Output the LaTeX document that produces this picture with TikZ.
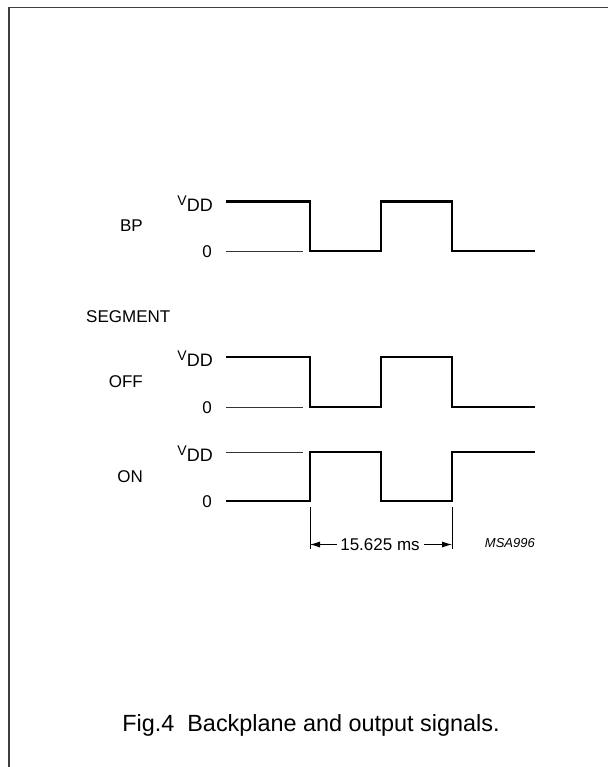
\documentclass[tikz,border=0pt]{standalone}
\usepackage{fontspec}
\setmainfont{Liberation Sans}
\usetikzlibrary{arrows.meta}
\begin{document}
\begin{tikzpicture}[x=1bp,y=-1bp,
  wave/.style={line width=2.6bp, line join=miter, line cap=butt},
  thin/.style={line width=0.9bp, draw=black!80},
  lbl/.style={inner sep=0pt, font=\fontsize{17bp}{17bp}\selectfont},
  dim/.style={line width=0.8bp},
  frame/.style={line width=1.6bp, draw=black!75}]
\useasboundingbox (0,0) rectangle (608,767);
\draw[frame] (9,767) -- (9,7.5) -- (608,7.5);

% BP
\node[lbl, anchor=east] (bp) at (143,226) {BP};
\node[lbl, anchor=base east] (bpv) at (213,211) {\raisebox{6bp}{\fontsize{14bp}{14bp}\selectfont V}{\fontsize{18bp}{18bp}\selectfont DD}};
\node[lbl, anchor=east] (bp0) at (212,251.5) {0};
\draw[thin] (226,251) -- (303,251);
\draw[wave] (226,201.5) -- (310,201.5) -- (310,251) -- (381,251) -- (381,201.5) -- (452,201.5) -- (452,251) -- (535,251);

% SEGMENT
\node[lbl, anchor=west] (seg) at (86,317) {SEGMENT};

% OFF
\node[lbl, anchor=east] (off) at (143,382) {OFF};
\node[lbl, anchor=base east] (offv) at (213,366) {\raisebox{6bp}{\fontsize{14bp}{14bp}\selectfont V}{\fontsize{18bp}{18bp}\selectfont DD}};
\node[lbl, anchor=east] (off0) at (212,407.5) {0};
\draw[thin] (226,407) -- (303,407);
\draw[wave] (226,357) -- (310,357) -- (310,407) -- (381,407) -- (381,357) -- (452,357) -- (452,407) -- (535,407);

% ON
\node[lbl, anchor=east] (on) at (143,477) {ON};
\node[lbl, anchor=base east] (onv) at (213,461) {\raisebox{6bp}{\fontsize{14bp}{14bp}\selectfont V}{\fontsize{18bp}{18bp}\selectfont DD}};
\node[lbl, anchor=east] (on0) at (212,501.5) {0};
\draw[thin] (226,452) -- (303,452);
\draw[wave] (226,501) -- (310,501) -- (310,452) -- (381,452) -- (381,501) -- (452,501) -- (452,452) -- (535,452);

% dimension
\coordinate (e1t) at (310,507);
\coordinate (e1b) at (310,549);
\coordinate (e2t) at (452,507);
\coordinate (e2b) at (452,549);
\draw[dim] (e1t) -- (e1b);
\draw[dim] (e2t) -- (e2b);
\node[lbl, inner sep=0pt] (ms) at (380,545) {15.625 ms};
\coordinate (a1) at (310,544.5);
\coordinate (a2) at (452,544.5);
\draw[dim, -{Latex[length=10bp,width=6bp]}] (ms.west |- a1) ++(-3,0) -- (a1);
\draw[dim, -{Latex[length=10bp,width=6bp]}] (ms.east |- a2) ++(4,0) -- (a2);
\node[inner sep=0pt, anchor=east, font=\fontsize{13bp}{13bp}\selectfont\itshape] (msa) at (535,543) {MSA996};

% caption
\node[inner sep=0pt, font=\fontsize{23.4bp}{23.4bp}\selectfont] (cap) at (311,725) {Fig.4\ \ Backplane and output signals.};
\end{tikzpicture}
\end{document}
